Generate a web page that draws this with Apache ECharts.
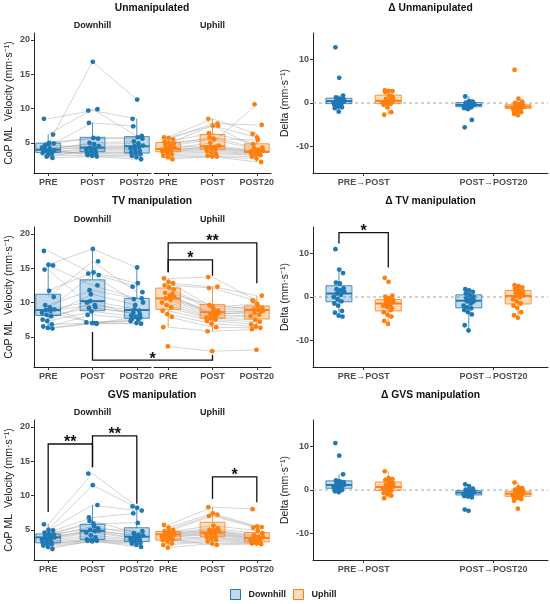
<!DOCTYPE html>
<html>
<head>
<meta charset="utf-8">
<script src="https://cdn.jsdelivr.net/npm/echarts@6/dist/echarts.min.js"></script>
<style>
  html, body { margin: 0; padding: 0; background: #fff; }
  #chart { width: 550px; height: 604px; }
</style>
</head>
<body>
<div id="chart"></div>
<script>
// DATA
const times = ['PRE', 'POST', 'POST20']
const deltaCats = ['PRE\u2192POST', 'POST\u2192POST20']
const slopes = ['Downhill', 'Uphill']
const conditions = ['Unmanipulated', 'TV manipulation', 'GVS manipulation']
const leftTicks = [5, 10, 15, 20]
const deltaTicks = [-10, 0, 10]

// velocity per subject (same index = same subject), mm/s
const unDownPre = [8.5, 4.8, 6.2, 4.5, 5.0, 4.9, 4.0, 4.2, 3.9, 4.7, 3.6, 4.3, 3.0, 3.8, 3.5, 3.7, 3.4, 4.0, 3.2, 2.8]
const unDownPost = [9.7, 16.8, 9.9, 7.9, 5.7, 5.6, 5.0, 4.8, 4.5, 4.3, 4.2, 4.1, 4.0, 3.8, 3.6, 3.5, 3.4, 3.2, 3.1, 3.0]
const unDownPost20 = [8.5, 11.3, 6.0, 7.4, 5.8, 5.6, 5.2, 4.9, 4.6, 4.5, 4.4, 4.2, 4.0, 3.8, 3.6, 3.5, 3.3, 3.1, 2.9, 2.6]
const unUpPre = [5.8, 5.7, 5.5, 5.2, 5.0, 4.9, 4.7, 4.5, 4.3, 4.2, 4.1, 4.0, 3.9, 3.8, 3.7, 3.5, 3.3, 3.1, 2.9, 2.6]
const unUpPost = [8.5, 7.5, 7.8, 6.4, 5.6, 7.5, 5.8, 5.5, 4.6, 5.0, 4.4, 4.3, 4.2, 4.0, 3.8, 3.6, 3.4, 3.1, 3.0, 3.0]
const unUpPost20 = [6.3, 5.8, 7.6, 4.8, 5.4, 4.3, 4.2, 4.0, 3.9, 10.6, 3.8, 3.7, 3.6, 3.5, 3.4, 3.3, 3.2, 3.0, 2.7, 2.2]

const tvDownPre = [17.5, 15.5, 15.4, 14.8, 11.7, 10.8, 9.6, 9.3, 9.0, 8.9, 8.8, 8.5, 8.2, 8.0, 7.5, 7.3, 6.8, 6.5, 6.3, 6.2]
const tvDownPost = [14.2, 17.8, 12.5, 9.2, 14.4, 16.0, 11.8, 7.0, 14.0, 10.2, 9.6, 7.1, 11.2, 9.3, 10.0, 8.7, 7.0, 8.2, 7.0, 6.9]
const tvDownPost20 = [12.3, 15.1, 10.6, 8.5, 12.8, 11.5, 10.5, 7.5, 10.0, 9.0, 8.8, 7.3, 9.6, 8.3, 8.1, 7.9, 7.8, 7.6, 7.0, 6.9]
const tvUpPre = [13.5, 13.0, 12.8, 12.5, 12.2, 11.9, 11.4, 11.0, 10.8, 10.6, 10.4, 10.0, 9.6, 9.3, 8.8, 8.3, 7.9, 6.4, 3.6, 11.2]
const tvUpPost = [13.7, 9.3, 12.3, 12.1, 9.0, 8.8, 9.6, 8.6, 8.5, 8.3, 8.0, 7.8, 7.7, 7.5, 7.3, 6.9, 6.4, 5.8, 2.9, 8.2]
const tvUpPost20 = [10.3, 9.8, 11.0, 10.2, 9.5, 9.2, 9.0, 8.9, 8.8, 8.5, 8.2, 8.0, 7.5, 7.2, 6.8, 6.5, 6.3, 6.1, 3.1, 8.7]

const gvsDownPre = [5.8, 5.0, 4.9, 4.6, 4.4, 4.3, 4.2, 4.0, 3.9, 3.8, 3.7, 3.6, 3.5, 3.3, 3.2, 3.0, 2.9, 2.7, 2.5, 2.2]
const gvsDownPost = [13.2, 11.5, 8.6, 6.8, 5.9, 5.2, 6.3, 5.5, 4.9, 5.0, 4.8, 4.6, 4.2, 3.9, 3.6, 3.5, 3.5, 3.4, 3.3, 3.4]
const gvsDownPost20 = [8.4, 8.2, 7.8, 7.4, 6.0, 4.8, 4.5, 4.3, 4.2, 4.0, 3.8, 3.7, 3.6, 3.5, 3.4, 3.3, 3.1, 3.0, 2.8, 2.5]
const gvsUpPre = [5.7, 5.3, 5.0, 4.8, 4.7, 4.6, 4.5, 4.4, 4.3, 4.2, 4.1, 4.0, 3.9, 3.7, 3.5, 3.3, 3.0, 2.8, 2.4, 3.6]
const gvsUpPost = [8.3, 7.4, 7.2, 7.0, 5.6, 5.2, 5.0, 4.9, 4.8, 4.6, 4.5, 4.4, 4.3, 4.0, 3.9, 3.7, 3.5, 3.3, 3.0, 2.8]
const gvsUpPost20 = [8.0, 5.5, 5.4, 5.3, 4.9, 4.5, 4.2, 4.0, 3.9, 3.8, 3.7, 3.6, 3.5, 3.4, 3.3, 3.2, 3.1, 3.0, 3.0, 2.9]

// box stats [lower whisker, Q1, median, Q3, upper whisker] per time point
const unDownBox = [[2.8, 3.6, 4.0, 4.95, 6.2], [3.0, 3.7, 4.3, 5.8, 7.9], [2.6, 3.5, 4.5, 5.9, 8.5]]
const unUpBox = [[2.6, 3.7, 4.1, 5.05, 5.8], [3.0, 4.0, 4.5, 6.2, 8.5], [2.2, 3.6, 3.7, 4.85, 6.3]]
const tvDownBox = [[6.2, 8.1, 8.9, 11.2, 15.5], [6.9, 8.8, 10.2, 13.3, 17.8], [6.9, 7.7, 8.9, 10.6, 15.1]]
const tvUpBox = [[6.4, 9.0, 10.6, 12.1, 13.5], [5.8, 7.7, 8.6, 9.7, 12.3], [6.1, 7.6, 8.9, 9.5, 11.0]]
const gvsDownBox = [[2.2, 3.1, 3.9, 4.4, 5.8], [3.3, 3.6, 4.85, 5.8, 8.6], [2.5, 3.3, 4.0, 5.3, 8.4]]
const gvsUpBox = [[2.4, 3.5, 4.35, 4.75, 5.7], [2.8, 4.0, 4.6, 6.1, 8.3], [2.9, 3.25, 3.8, 4.6, 5.5]]

// deltas, [PRE->POST, POST->POST20]
const unDeltaDown = [
  [12.8, 5.8, 1.7, 1.3, 1.0, 0.8, 0.6, 0.5, 0.4, 0.3, 0.2, 0.1, 0.0, -0.2, -0.4, -0.8, -1.0, -1.2, -2.0, 0.9],
  [1.5, 0.4, 0.2, 0.1, 0.0, -0.1, -0.2, -0.3, -0.4, -0.5, -0.6, -0.7, -0.9, -1.0, -1.2, -1.4, -3.9, -5.6, -0.3, 0.3]]
const unDeltaUp = [
  [2.9, 2.8, 2.7, 2.5, 1.7, 1.2, 0.9, 0.6, 0.5, 0.3, 0.2, 0.1, 0.0, -0.2, -0.4, -1.0, -2.1, -2.7, 0.4, 1.5],
  [7.6, 1.0, 0.3, 0.0, -0.3, -0.5, -0.6, -0.7, -0.8, -0.9, -1.0, -1.1, -1.2, -1.4, -1.6, -1.8, -2.1, -2.5, -2.8, -0.4]]
const tvDeltaDown = [
  [11.0, 6.3, 5.5, 3.3, 3.1, 2.0, 1.8, 1.5, 1.2, 0.8, 0.5, 0.0, -0.5, -1.0, -1.5, -2.0, -3.2, -3.6, -4.3, -4.5],
  [1.8, 1.5, 1.2, 0.8, 0.4, 0.0, -0.3, -0.6, -0.9, -1.0, -1.5, -2.0, -2.4, -2.6, -3.0, -3.5, -4.0, -6.5, -7.7, -1.2]]
const tvDeltaUp = [
  [4.4, 3.5, 0.3, 0.1, -0.3, -0.6, -0.8, -1.0, -1.2, -1.5, -1.8, -2.0, -2.3, -3.0, -3.5, -4.1, -4.5, -5.5, -6.2, -2.6],
  [2.7, 2.5, 2.2, 1.9, 1.5, 1.3, 1.0, 0.7, 0.4, 0.2, 0.0, -0.5, -1.0, -1.5, -2.0, -2.5, -3.5, -4.2, -4.8, 1.1]]
const gvsDeltaDown = [
  [10.8, 7.9, 3.6, 2.2, 2.0, 1.8, 1.6, 1.4, 1.2, 1.1, 1.0, 0.8, 0.6, 0.5, 0.4, 0.2, 0.0, -0.3, -0.5, 1.3],
  [1.3, 0.9, 0.3, 0.1, -0.1, -0.3, -0.4, -0.5, -0.6, -0.7, -0.8, -0.9, -1.0, -1.2, -1.4, -1.5, -1.7, -4.5, -4.8, -0.2]]
const gvsDeltaUp = [
  [4.3, 2.7, 2.5, 2.3, 1.8, 1.5, 1.2, 1.0, 0.8, 0.6, 0.4, 0.3, 0.0, -0.3, -0.7, -1.0, -1.3, -1.9, 0.9, 1.6],
  [1.7, 0.6, 0.4, 0.1, -0.1, -0.3, -0.5, -0.7, -0.8, -0.9, -1.0, -1.1, -1.2, -1.4, -1.6, -1.8, -2.1, -2.5, -4.3, -0.6]]

const unDeltaDownBox = [[-2.0, -0.15, 0.45, 1.1, 1.8], [-1.5, -0.85, -0.45, 0.1, 1.5]]
const unDeltaUpBox = [[-2.7, -0.15, 0.5, 1.8, 3.0], [-2.8, -1.3, -0.85, -0.4, 1.0]]
const tvDeltaDownBox = [[-4.5, -1.1, 0.8, 2.6, 6.3], [-7.7, -2.5, -0.85, 0.5, 1.8]]
const tvDeltaUpBox = [[-6.2, -3.2, -1.5, -0.6, 0.3], [-4.8, -1.6, 0.25, 1.5, 2.7]]
const gvsDeltaDownBox = [[-0.5, 0.4, 1.15, 2.1, 3.6], [-1.7, -1.15, -0.6, -0.15, 1.3]]
const gvsDeltaUpBox = [[-1.9, -0.1, 0.7, 1.85, 4.3], [-2.2, -1.45, -0.85, -0.3, 1.7]]

// significance brackets: facet 0 = Downhill, 1 = Uphill; x given as time index
const unBrackets = []
const tvBrackets = [
  { facet: 1, from: 0, to: 2, y: 18.7, yFrom: 14.4, yTo: 12.8, label: '**' },
  { facet: 1, from: 0, to: 1, y: 16.2, yFrom: 14.4, yTo: 13.9, label: '*' },
  { facet: 0, from: 1, to: 'up1', y: 1.6, yFrom: 5.7, yTo: 2.4, label: '*' }
]
const gvsBrackets = [
  { facet: 0, from: 0, to: 1, y: 17.5, yFrom: 7.6, yTo: 14.1, label: '**' },
  { facet: 0, from: 1, to: 2, y: 18.7, yFrom: 14.1, yTo: 8.8, label: '**' },
  { facet: 1, from: 1, to: 2, y: 12.7, yFrom: 9.5, yTo: 9.0, label: '*' }
]
const tvDeltaBrackets = [{ from: 0, to: 0, y: 14.8, yFrom: 12.3, yTo: 6.8, label: '*' }]

// LAYOUT
const FONT = '"Liberation Sans", Arial, sans-serif'
const colors = { Downhill: '#1f77b4', Uphill: '#ff7f0e' }
const edges = { Downhill: 'rgba(31,119,180,0.8)', Uphill: 'rgba(255,127,14,0.8)' }
const fills = { Downhill: 'rgba(31,119,180,0.28)', Uphill: 'rgba(255,127,14,0.28)' }
const rowTops = [33, 227, 420]
const rowH = 140
const facetLeft = [34, 154]
const facetW = 117
const deltaLeft = 313
const deltaW = 235
const leftX = [-0.32, 2.32]
const deltaX = [-0.39, 1.42]
const leftY = [0.6, 21]
const deltaY = [-16.1, 16.1]
const dodge = 0.19
const upShift = (facetLeft[1] - facetLeft[0]) / facetW * (leftX[1] - leftX[0])

const rows = [
  { title: conditions[0], down: [unDownPre, unDownPost, unDownPost20], up: [unUpPre, unUpPost, unUpPost20],
    downBox: unDownBox, upBox: unUpBox, dDown: unDeltaDown, dUp: unDeltaUp,
    dDownBox: unDeltaDownBox, dUpBox: unDeltaUpBox, brackets: unBrackets, dBrackets: [] },
  { title: conditions[1], down: [tvDownPre, tvDownPost, tvDownPost20], up: [tvUpPre, tvUpPost, tvUpPost20],
    downBox: tvDownBox, upBox: tvUpBox, dDown: tvDeltaDown, dUp: tvDeltaUp,
    dDownBox: tvDeltaDownBox, dUpBox: tvDeltaUpBox, brackets: tvBrackets, dBrackets: tvDeltaBrackets },
  { title: conditions[2], down: [gvsDownPre, gvsDownPost, gvsDownPost20], up: [gvsUpPre, gvsUpPost, gvsUpPost20],
    downBox: gvsDownBox, upBox: gvsUpBox, dDown: gvsDeltaDown, dUp: gvsDeltaUp,
    dDownBox: gvsDeltaDownBox, dUpBox: gvsDeltaUpBox, brackets: gvsBrackets, dBrackets: [] }
]

// spread jittered points evenly in [-0.5, 0.5]
const jitter = (i, n) => ((i * 7 + 3) % n) / (n - 1) - 0.5

const axisLine = { show: true, onZero: false, lineStyle: { color: '#222', width: 1 } }
const tickStyle = { show: true, length: 3, lineStyle: { color: '#333' } }
const labelStyle = { color: '#4d4d4d', fontWeight: 'bold', fontSize: 9, fontFamily: FONT }

const boxSeries = (idx, items, slope, halfW) => ({
  type: 'custom', xAxisIndex: idx, yAxisIndex: idx, z: 3, silent: true, data: items,
  renderItem: (params, api) => {
    const x = api.value(0)
    const c = d => api.coord([x, api.value(d)])
    const lo = c(1), q1 = c(2), md = c(3), q3 = c(4), hi = c(5)
    const xl = api.coord([x - halfW, 0])[0]
    const xr = api.coord([x + halfW, 0])[0]
    const stroke = edges[slope]
    return { type: 'group', children: [
      { type: 'line', shape: { x1: lo[0], y1: lo[1], x2: q1[0], y2: q1[1] }, style: { stroke, lineWidth: 1 } },
      { type: 'line', shape: { x1: q3[0], y1: q3[1], x2: hi[0], y2: hi[1] }, style: { stroke, lineWidth: 1 } },
      { type: 'rect', shape: { x: xl, y: q3[1], width: xr - xl, height: q1[1] - q3[1] }, style: { fill: fills[slope], stroke, lineWidth: 1 } },
      { type: 'line', shape: { x1: xl, y1: md[1], x2: xr, y2: md[1] }, style: { stroke: colors[slope], lineWidth: 1.9 } }
    ] }
  }
})

const subjectSeries = (idx, vals) => ({
  type: 'custom', xAxisIndex: idx, yAxisIndex: idx, z: 1, silent: true,
  data: vals[0].map((v, i) => [vals[0][i], vals[1][i], vals[2][i]]),
  renderItem: (params, api) => ({
    type: 'polyline',
    shape: { points: [0, 1, 2].map(k => api.coord([k, api.value(k)])) },
    style: { stroke: 'rgba(150,150,150,0.5)', lineWidth: 0.8, fill: null }
  })
})

const pointSeries = (idx, slope, vals, centers, width) => {
  const data = []
  vals.forEach((arr, k) => arr.forEach((v, i) => data.push([centers[k] + jitter(i, arr.length) * width, v])))
  return { type: 'scatter', name: slope, xAxisIndex: idx, yAxisIndex: idx, z: 4, symbolSize: 4.8,
    itemStyle: { color: colors[slope], opacity: 1 }, data }
}

const bracketSeries = (idx, list, xOf) => ({
  type: 'custom', xAxisIndex: idx, yAxisIndex: idx, z: 5, silent: true, clip: false,
  data: list.map(b => [xOf(b.from), xOf(b.to), b.y, b.yFrom, b.yTo]),
  renderItem: (params, api) => {
    const x1 = api.value(0), x2 = api.value(1), y = api.value(2)
    const a = api.coord([x1, api.value(3)]), b = api.coord([x1, y])
    const e = api.coord([x2, y]), f = api.coord([x2, api.value(4)])
    return { type: 'group', children: [
      { type: 'polyline', shape: { points: [a, b, e, f] }, style: { stroke: '#111', lineWidth: 1.3, fill: null } },
      { type: 'text', x: (b[0] + e[0]) / 2, y: b[1] - 1,
        style: { text: list[params.dataIndex].label, textAlign: 'center', textVerticalAlign: 'middle',
          font: 'bold 16px ' + FONT, fill: '#111' } }
    ] }
  }
})

// zero reference line across a delta panel
const zeroSeries = idx => ({
  type: 'custom', xAxisIndex: idx, yAxisIndex: idx, z: 2, silent: true, data: [[0]],
  renderItem: (params, api) => {
    const a = api.coord([deltaX[0], 0]), b = api.coord([deltaX[1], 0])
    return { type: 'line', shape: { x1: a[0], y1: a[1], x2: b[0], y2: b[1] },
      style: { stroke: '#a6a6a6', lineWidth: 1.2, lineDash: [3, 3] } }
  }
})

const grids = [], xAxes = [], yAxes = [], series = [], graphics = []

rows.forEach((row, r) => {
  const top = rowTops[r]
  // two facets
  slopes.forEach((slope, f) => {
    const idx = grids.length
    grids.push({ left: facetLeft[f], top, width: facetW, height: rowH })
    xAxes.push({ gridIndex: idx, type: 'value', min: leftX[0], max: leftX[1], axisLine,
      axisTick: { ...tickStyle, customValues: [0, 1, 2] },
      axisLabel: { ...labelStyle, margin: 5, customValues: [0, 1, 2], formatter: v => times[Math.round(v)] },
      splitLine: { show: false } })
    yAxes.push({ gridIndex: idx, type: 'value', min: leftY[0], max: leftY[1], show: f === 0, axisLine,
      axisTick: { ...tickStyle, customValues: leftTicks },
      axisLabel: { ...labelStyle, margin: 4, customValues: leftTicks },
      splitLine: { show: false },
      name: f === 0 ? 'CoP ML  Velocity (mm\u00b7s\u207b\u00b9)' : '', nameLocation: 'middle', nameGap: 19,
      nameTextStyle: { fontSize: 10.5, color: '#222', fontFamily: FONT } })
    const vals = f === 0 ? row.down : row.up
    series.push(subjectSeries(idx, vals))
    series.push(boxSeries(idx, (f === 0 ? row.downBox : row.upBox).map((b, k) => [k, ...b]), slope, 0.28))
    series.push(pointSeries(idx, slope, vals, [0, 1, 2], 0.28))
    const br = row.brackets.filter(b => b.facet === f)
    if (br.length) series.push(bracketSeries(idx, br, x => x === 'up1' ? 1 + upShift : x))
    graphics.push({ type: 'text', x: facetLeft[f] + facetW / 2, y: top - 7,
      style: { text: slope, textAlign: 'center', textVerticalAlign: 'middle', font: 'bold 9px ' + FONT, fill: '#222' } })
  })
  // delta panel
  const idx = grids.length
  grids.push({ left: deltaLeft, top, width: deltaW, height: rowH })
  xAxes.push({ gridIndex: idx, type: 'value', min: deltaX[0], max: deltaX[1], axisLine,
    axisTick: { ...tickStyle, customValues: [0, 1] },
    axisLabel: { ...labelStyle, margin: 5, customValues: [0, 1], formatter: v => deltaCats[Math.round(v)] },
    splitLine: { show: false } })
  yAxes.push({ gridIndex: idx, type: 'value', min: deltaY[0], max: deltaY[1], axisLine,
    axisTick: { ...tickStyle, customValues: deltaTicks },
    axisLabel: { ...labelStyle, margin: 4, customValues: deltaTicks },
    splitLine: { show: false },
    name: 'Delta (mm\u00b7s\u207b\u00b9)', nameLocation: 'middle', nameGap: 22,
    nameTextStyle: { fontSize: 10.5, color: '#222', fontFamily: FONT } })
  series.push(zeroSeries(idx))
  series.push(boxSeries(idx, row.dDownBox.map((b, k) => [k - dodge, ...b]), 'Downhill', 0.1))
  series.push(boxSeries(idx, row.dUpBox.map((b, k) => [k + dodge, ...b]), 'Uphill', 0.1))
  series.push(pointSeries(idx, 'Downhill', row.dDown, [-dodge, 1 - dodge], 0.08))
  series.push(pointSeries(idx, 'Uphill', row.dUp, [dodge, 1 + dodge], 0.08))
  if (row.dBrackets.length) series.push(bracketSeries(idx, row.dBrackets.map(b => ({ ...b, from: b.from - dodge, to: b.to + dodge })), x => x))

  const titleY = [8, 201, 395][r]
  graphics.push({ type: 'text', x: 152, y: titleY,
    style: { text: row.title, textAlign: 'center', textVerticalAlign: 'middle', font: 'bold 10.3px ' + FONT, fill: '#111' } })
  graphics.push({ type: 'text', x: deltaLeft + deltaW / 2, y: titleY,
    style: { text: '\u0394 ' + row.title, textAlign: 'center', textVerticalAlign: 'middle', font: 'bold 10.3px ' + FONT, fill: '#111' } })
})

const chart = echarts.init(document.getElementById('chart'))
chart.setOption({
  animation: false,
  textStyle: { fontFamily: FONT },
  grid: grids,
  xAxis: xAxes,
  yAxis: yAxes,
  series,
  graphic: graphics,
  legend: {
    top: 584, left: 225, selectedMode: false, itemWidth: 10, itemHeight: 10, itemGap: 7,
    textStyle: { fontWeight: 'bold', fontSize: 9, color: '#222', fontFamily: FONT, padding: [0, 0, 0, 3] },
    data: slopes.map(s => ({ name: s, icon: 'rect', itemStyle: { color: fills[s], borderColor: colors[s], borderWidth: 1 } }))
  }
})
</script>
</body>
</html>
